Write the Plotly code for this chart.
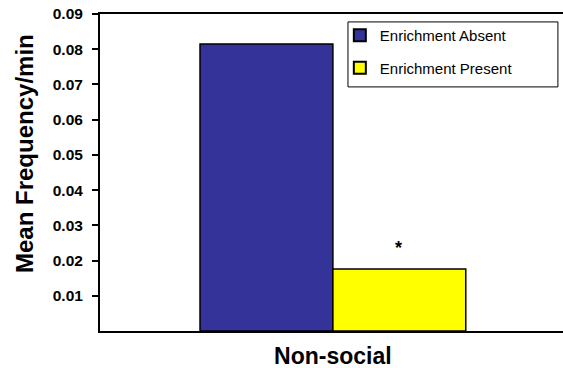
import plotly.graph_objects as go

# Mean frequency per minute of non-social behaviour
categories = ["Non-social"]
absent_values = [0.0815]
present_values = [0.0176]
y_tick_values = [0.01, 0.02, 0.03, 0.04, 0.05, 0.06, 0.07, 0.08, 0.09]
y_tick_labels = ["0.01", "0.02", "0.03", "0.04", "0.05", "0.06", "0.07", "0.08", "0.09"]

FONT = "Arial, Liberation Sans, sans-serif"

fig = go.Figure()
fig.add_trace(go.Bar(
    x=categories, y=absent_values, name="Enrichment Absent",
    marker=dict(color="#333399", line=dict(color="black", width=1.5)),
    legendgroup="a",
))
fig.add_trace(go.Bar(
    x=categories, y=present_values, name="Enrichment Present",
    marker=dict(color="#FFFF00", line=dict(color="black", width=1.5)),
    legendgroup="p",
))

# significance marker above the enrichment-present bar
fig.add_annotation(
    x=categories[0], y=present_values[0], xref="x", yref="y",
    xshift=66, yshift=9, yanchor="bottom", text="<b>*</b>", showarrow=False,
    font=dict(family=FONT, size=18, color="black"),
)

# y-axis title
fig.add_annotation(
    x=-0.163, y=0.56, xref="paper", yref="paper", textangle=-90,
    xanchor="center", yanchor="middle",
    text="<b>Mean Frequency/min</b>", showarrow=False,
    font=dict(family=FONT, size=24, color="black"),
)

# framed box behind the legend entries
fig.add_shape(
    type="rect", xref="paper", yref="paper",
    x0=0.5356, x1=0.989, y0=0.770, y1=0.975,
    line=dict(color="black", width=1), fillcolor="white", layer="above",
)

fig.update_layout(
    width=563, height=368,
    margin=dict(l=100, r=0, t=14, b=37, autoexpand=False),
    paper_bgcolor="white", plot_bgcolor="white",
    barmode="group", bargap=0.426, bargroupgap=0,
    showlegend=True,
    legend=dict(
        x=0.518, y=0.984, xanchor="left", yanchor="top",
        bgcolor="rgba(0,0,0,0)", borderwidth=0,
        font=dict(family=FONT, size=15, color="black"),
        tracegroupgap=10, itemsizing="constant",
    ),
    xaxis=dict(
        range=[-0.503, 0.497], showline=True, linecolor="black", linewidth=2,
        mirror=True, ticks="", showgrid=False, automargin=False,
        tickfont=dict(family=FONT, size=23, color="black"),
        ticklabelstandoff=3,
    ),
    yaxis=dict(
        range=[0, 0.09], showline=True, linecolor="black", linewidth=2,
        ticks="outside", ticklen=6, tickwidth=2, tickcolor="black",
        tickvals=y_tick_values, ticktext=["<b>%s</b>" % t for t in y_tick_labels],
        showgrid=False, zeroline=False, automargin=False,
        tickfont=dict(family=FONT, size=15.5, color="black"),
        ticklabelstandoff=6,
    ),
)
fig.update_xaxes(tickprefix="<b>", ticksuffix="</b>")

fig.write_html("out.html")
